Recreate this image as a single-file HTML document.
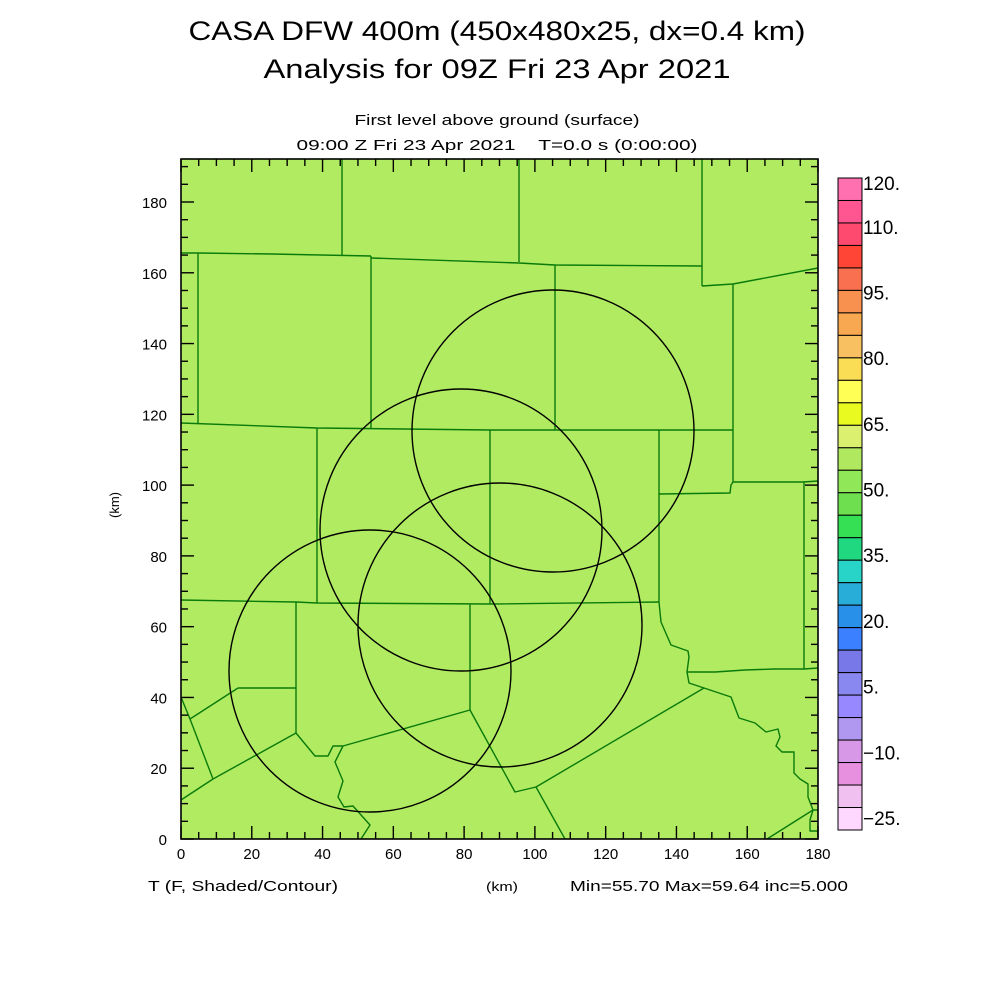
<!DOCTYPE html>
<html><head><meta charset="utf-8"><style>
html,body{margin:0;padding:0;background:#fff;}
svg{display:block;}
text{font-family:"Liberation Sans","DejaVu Sans",sans-serif;fill:#000;}
</style></head><body>
<svg id="s" width="1000" height="1000" viewBox="0 0 1000 1000" xmlns="http://www.w3.org/2000/svg">
<rect width="1000" height="1000" fill="#fff"/>
<text x="497" y="40" font-size="27" text-anchor="middle" textLength="617" lengthAdjust="spacingAndGlyphs">CASA DFW 400m (450x480x25, dx=0.4 km)</text>
<text x="497" y="78" font-size="27" text-anchor="middle" textLength="467" lengthAdjust="spacingAndGlyphs">Analysis for 09Z Fri 23 Apr 2021</text>
<text x="497" y="125" font-size="15" text-anchor="middle" textLength="285" lengthAdjust="spacingAndGlyphs">First level above ground (surface)</text>
<text x="497" y="150" font-size="15" text-anchor="middle" textLength="401" lengthAdjust="spacingAndGlyphs" xml:space="preserve">09:00 Z Fri 23 Apr 2021    T=0.0 s (0:00:00)</text>

<rect x="181" y="159" width="637" height="680" fill="#b0eb62"/>
<g fill="none" stroke="#0a7a0a" stroke-width="1.4" stroke-linejoin="round">
<polyline points="342,159 342,255"/>
<polyline points="519,159 519,262"/>
<polyline points="702,159 702,286"/>
<polyline points="181,253 198,253 272,254 371,256"/>
<polyline points="371,258 519,263 555,265 702,266"/>
<polyline points="702,286 733,284 818,268"/>
<polyline points="198,253 198,423"/>
<polyline points="371,256 371,428"/>
<polyline points="555,265 555,430"/>
<polyline points="733,284 733,482 731,485 730,493 659,494"/>
<polyline points="733,482 803,482 818,481"/>
<polyline points="804,482 804,669"/>
<polyline points="181,423 317,428 490,430 733,430"/>
<polyline points="317,428 317,603"/>
<polyline points="490,430 490,604"/>
<polyline points="659,430 659,602"/>
<polyline points="181,600 296,602 317,603 490,604 659,602"/>
<polyline points="296,602 296,733"/>
<polyline points="238,688 296,688"/>
<polyline points="238,688 190,719"/>
<polyline points="181,697 190,719 213,779"/>
<polyline points="181,800 213,779 296,733"/>
<polyline points="296,733 315,756 328,756 333,746 343,746 470,710"/>
<polyline points="343,746 335,762 343,781 338,797 344,807 353,806 370,825 361,839"/>
<polyline points="470,604 470,710"/>
<polyline points="470,710 515,792 536,787 565,839"/>
<polyline points="536,787 704,688"/>
<polyline points="659,602 661,622 671,645 688,651 689,657 687,672 689,683 704,688 731,697 739,718 755,723 766,732 778,729 780,737 776,746 782,752 794,752 794,773 800,779 808,784 808,797 813,810 818,810"/>
<polyline points="813,810 810,820 810,831 818,831"/>
<polyline points="767,839 813,810"/>
<polyline points="687,672 715,672 745,670 774,669 804,669 818,668"/>
</g>
<g fill="none" stroke="#000" stroke-width="1.4">
<circle cx="370" cy="671" r="141"/>
<circle cx="461" cy="530" r="141"/>
<circle cx="553" cy="431" r="141"/>
<circle cx="500" cy="625" r="142"/>
</g>
<g id="ticks" stroke="#000" stroke-width="1.4"></g>
<rect x="181" y="159" width="637" height="680" fill="none" stroke="#000" stroke-width="1.6"/>
<g id="lab" font-size="15"></g>
<text x="119" y="505" font-size="13" text-anchor="middle" transform="rotate(-90 119 505)">(km)</text>
<text x="148" y="891" font-size="15" textLength="190" lengthAdjust="spacingAndGlyphs">T (F, Shaded/Contour)</text>
<text x="486" y="891" font-size="13" textLength="32" lengthAdjust="spacingAndGlyphs">(km)</text>
<text x="570" y="891" font-size="15" textLength="278" lengthAdjust="spacingAndGlyphs">Min=55.70 Max=59.64 inc=5.000</text>
<g id="cb"></g>
</svg>
<script>
(function(){
var NS="http://www.w3.org/2000/svg";
function el(p,t,a,txt){var e=document.createElementNS(NS,t);for(var k in a)e.setAttribute(k,a[k]);if(txt!==undefined)e.textContent=txt;document.getElementById(p).appendChild(e);}
var s=637/180,X0=181,Y0=839;
for(var v=0;v<=180;v+=5){var x=X0+v*s,L=(v%20==0)?13:7;
 el("ticks","line",{x1:x,y1:Y0,x2:x,y2:Y0-L});el("ticks","line",{x1:x,y1:159,x2:x,y2:159+L});
 if(v%20==0)el("lab","text",{x:x,y:859,"text-anchor":"middle"},v);}
for(var v=0;v<=190;v+=5){var y=Y0-v*s,L=(v%20==0)?13:7;
 el("ticks","line",{x1:X0,y1:y,x2:X0+L,y2:y});el("ticks","line",{x1:818,y1:y,x2:818-L,y2:y});
 if(v%20==0)el("lab","text",{x:167,y:y+6,"text-anchor":"end"},v);}
var cols=["#ff70b0","#ff5590","#ff4a70","#ff4535","#f87050","#f89050","#f8a850","#f8c060","#fbdc55","#ffff55","#e8fa20","#dcf070","#b0e860","#90e858","#6ee050","#35e055","#20d880","#28d4c8","#28acd8","#2890e8","#3a80ff","#7878e8","#8888f0","#9888ff","#b098f0","#d898e8","#e890e0","#f0c0f0","#ffd8ff"];
var cbTop=178,bh=(830-178)/29;
for(var i=0;i<29;i++)el("cb","rect",{x:838,y:cbTop+i*bh,width:24,height:bh,fill:cols[i],stroke:"#000","stroke-width":1});
var labs=["120.","110.","95.","80.","65.","50.","35.","20.","5.","\u221210.","\u221225."];
var pos=[0,2,5,8,11,14,17,20,23,26,29];
for(var i=0;i<labs.length;i++){var cy=183+pos[i]/29*(818-183);
 el("cb","text",{x:863,y:cy+7,"font-size":19},labs[i]);}
})();
</script>
</body></html>
